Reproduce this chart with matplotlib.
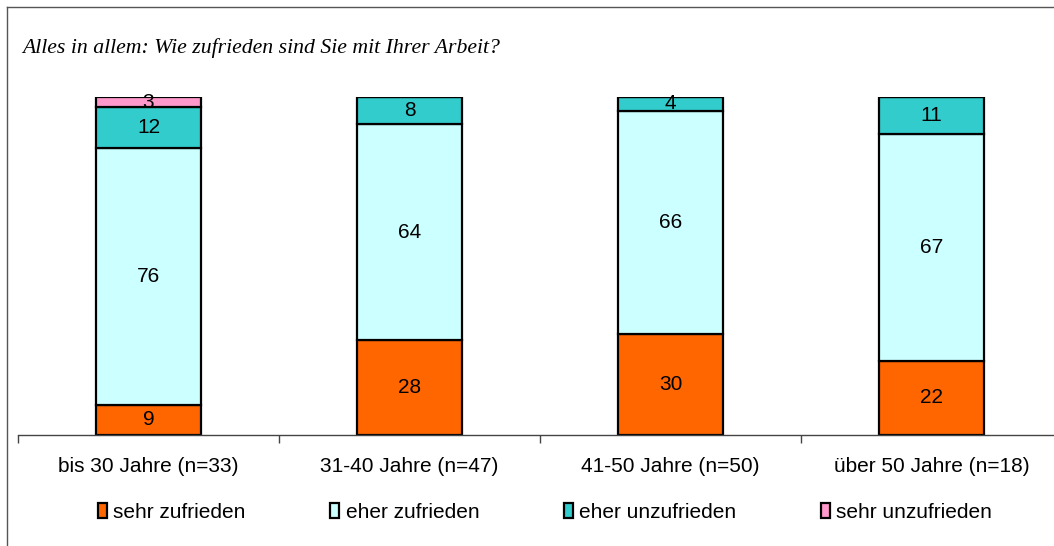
import matplotlib
matplotlib.use("Agg")
import matplotlib.pyplot as plt
from matplotlib.patches import Rectangle
from matplotlib.lines import Line2D
import numpy as np

# ── Data ───────────────────────────────────────────────────────────────
categories = ["bis 30 Jahre (n=33)", "31-40 Jahre (n=47)",
              "41-50 Jahre (n=50)", "über 50 Jahre (n=18)"]
series_names = ["sehr zufrieden", "eher zufrieden",
                "eher unzufrieden", "sehr unzufrieden"]
sehr_zufrieden = [9, 28, 30, 22]
eher_zufrieden = [76, 64, 66, 67]
eher_unzufrieden = [12, 8, 4, 11]
sehr_unzufrieden = [3, 0, 0, 0]
title = "Alles in allem: Wie zufrieden sind Sie mit Ihrer Arbeit?"

colors = ["#FF6600", "#CCFFFF", "#33CCCC", "#FF99CC"]
W, H = 1054, 546
FS = 15

fig = plt.figure(figsize=(W / 100, H / 100), dpi=100)
ax = fig.add_axes([18 / W, (H - 435) / H, 1044 / W, 338 / H])

x = np.arange(len(categories))
bottom = np.zeros(len(categories))
series = [sehr_zufrieden, eher_zufrieden, eher_unzufrieden, sehr_unzufrieden]
for vals, col in zip(series, colors):
    vals = np.array(vals, dtype=float)
    ax.bar(x, vals, bottom=bottom, width=0.4, color=col,
           edgecolor="black", linewidth=1.6, zorder=2)
    for xi, b, v in zip(x, bottom, vals):
        if v > 0:
            ax.text(xi, b + v / 2, f"{v:.0f}", ha="center", va="center",
                    fontsize=FS, family="Liberation Sans", zorder=3)
    bottom += vals

ax.set_xlim(-0.5, 3.5)
ax.set_ylim(0, 100)
for s in ["top", "right", "left"]:
    ax.spines[s].set_visible(False)
ax.spines["bottom"].set_color("#444444")
ax.spines["bottom"].set_linewidth(1.0)
ax.set_yticks([])
ax.set_xticks(x)
ax.set_xticklabels(categories, fontsize=FS, family="Liberation Sans")
ax.tick_params(axis="x", which="major", length=0, pad=16)
ax.set_xticks(np.arange(-0.5, 4.0, 1.0), minor=True)
ax.tick_params(axis="x", which="minor", length=6, width=1.0, color="#444444")

fig.text(22 / W, 1 - 48 / H, title, fontsize=15.7, family="Liberation Serif",
         style="italic", ha="left", va="center")

# outer frame (left and top edges visible)
fig.add_artist(Line2D([7 / W, 7 / W], [0, 1 - 7 / H], transform=fig.transFigure,
                      color="#555555", linewidth=1.0))
fig.add_artist(Line2D([7 / W, 1], [1 - 7 / H, 1 - 7 / H], transform=fig.transFigure,
                      color="#555555", linewidth=1.0))

handles = [Rectangle((0, 0), 1, 1, facecolor=c, edgecolor="black", linewidth=1.6)
           for c in colors]
fig.legend(handles, series_names, loc="center", bbox_to_anchor=(0.517, 1 - 512 / H),
           ncol=4, frameon=False, handlelength=0.45, handleheight=0.7,
           handletextpad=0.3, columnspacing=4.05,
           prop={"family": "Liberation Sans", "size": FS})

fig.savefig("out.png", dpi=100)
